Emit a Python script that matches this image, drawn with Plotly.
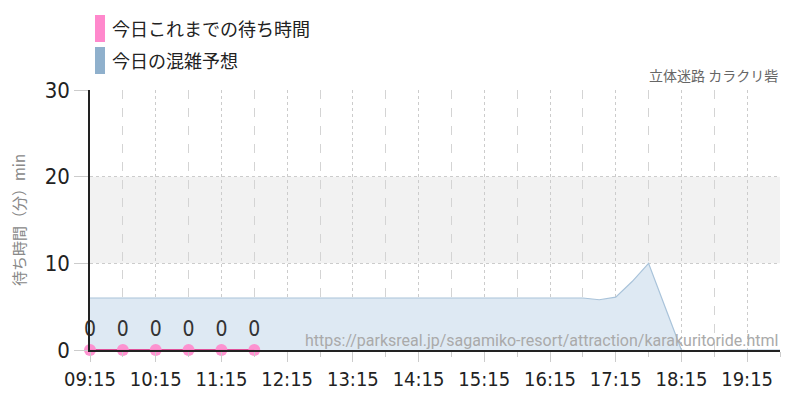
import plotly.graph_objects as go

# ---- data ----
forecast_times = [
    "09:15", "09:30", "09:45", "10:00", "10:15", "10:30", "10:45", "11:00",
    "11:15", "11:30", "11:45", "12:00", "12:15", "12:30", "12:45", "13:00",
    "13:15", "13:30", "13:45", "14:00", "14:15", "14:30", "14:45", "15:00",
    "15:15", "15:30", "15:45", "16:00", "16:15", "16:30", "16:45", "17:00",
    "17:15", "17:30", "17:45", "18:00", "18:15", "18:30", "18:45", "19:00",
    "19:15", "19:30", "19:45",
]
forecast_values = [
    6.0, 6.0, 6.0, 6.0, 6.0, 6.0, 6.0, 6.0,
    6.0, 6.0, 6.0, 6.0, 6.0, 6.0, 6.0, 6.0,
    6.0, 6.0, 6.0, 6.0, 6.0, 6.0, 6.0, 6.0,
    6.0, 6.0, 6.0, 6.0, 6.0, 6.0, 6.0, 5.8,
    6.1, 7.9, 10.0, 5.0, 0.0, -0.3, -0.1, 0.0,
    0.0, 0.0, 0.0,
]
actual_times = ["09:15", "09:45", "10:15", "10:45", "11:15", "11:45"]
actual_values = [0, 0, 0, 0, 0, 0]

series_names = ["今日これまでの待ち時間", "今日の混雑予想"]
series_colors = ["#ff88cc", "#8fb0cc"]
title_text = "立体迷路 カラクリ砦"
y_title = "待ち時間（分）min"
source_url = "https://parksreal.jp/sagamiko-resort/attraction/karakuritoride.html"
y_ticks = [0, 10, 20, 30]

DAY = "2024-01-01 "
fx = [DAY + t for t in forecast_times]
ax = [DAY + t for t in actual_times]

NUM_FONT = "Liberation Sans Narrow, DejaVu Sans Condensed, Roboto, sans-serif"
JP_FONT = "Noto Sans CJK JP, Noto Sans, sans-serif"

# page has an 8px body margin; compensate so the plot lands where the reference has it
OFF = 8
FIG_W, FIG_H = 800 - OFF, 400 - OFF
PL, PT, PW, PH = 90 - OFF, 90 - OFF, 690, 260

fig = go.Figure()

fig.add_trace(go.Scatter(
    x=fx, y=forecast_values, mode="lines", name=series_names[1],
    line=dict(color="#a9c3da", width=1.2),
    fill="tozeroy", fillcolor="rgba(222,233,243,1)",
    hoverinfo="skip", showlegend=False,
))

fig.add_trace(go.Scatter(
    x=ax, y=actual_values, mode="lines+markers+text", name=series_names[0],
    line=dict(color="#e0509a", width=2),
    marker=dict(color="rgba(255,136,204,0.9)", size=12),
    text=[str(v) for v in actual_values], textposition="top center",
    textfont=dict(family=NUM_FONT, size=21, color="#333333"),
    cliponaxis=False, showlegend=False,
))

# gray band 10-20
fig.add_shape(type="rect", xref="paper", yref="y", x0=0, x1=1, y0=10, y1=20,
              fillcolor="#f2f2f2", line=dict(width=0), layer="below")


def px(xw):
    return (xw - OFF - PL) / PW


def py(yw):
    return (PT + PH - (yw - OFF)) / PH


# custom legend
for i, (name, col) in enumerate(zip(series_names, series_colors)):
    top = 15 + 32 * i
    fig.add_shape(type="rect", xref="paper", yref="paper",
                  x0=px(95), x1=px(105), y0=py(top + 27), y1=py(top),
                  fillcolor=col, line=dict(width=0))
    fig.add_annotation(xref="paper", yref="paper",
                       x=px(110), y=py(top + 13), text=name, showarrow=False,
                       xanchor="left", yanchor="middle",
                       font=dict(family=JP_FONT, size=18, color="#222222"))

fig.add_annotation(xref="paper", yref="paper", x=1, y=py(75),
                   text=title_text, showarrow=False, xanchor="right", yanchor="middle",
                   font=dict(family=JP_FONT, size=14, color="#666666"))

fig.add_annotation(xref="paper", yref="paper", x=1, y=py(340),
                   text=source_url, showarrow=False, xanchor="right", yanchor="middle",
                   font=dict(family="Roboto, Open Sans, sans-serif", size=16, color="#aaaaaa"))

fig.update_layout(
    width=FIG_W, height=FIG_H,
    margin=dict(l=PL, r=FIG_W - PL - PW, t=PT, b=FIG_H - PT - PH),
    paper_bgcolor="white", plot_bgcolor="white",
    showlegend=False,
    xaxis=dict(
        type="date", automargin=False,
        range=[DAY + "09:15", DAY + "19:45"],
        tick0=DAY + "09:15", dtick=3600000, tickformat="%H:%M",
        showgrid=True, gridcolor="#cccccc", griddash="dot", gridwidth=1,
        ticks="outside", ticklen=10, tickcolor="#cccccc",
        tickfont=dict(family=NUM_FONT, size=20, color="#222222"),
        showline=True, linecolor="#222222", linewidth=1.5,
        minor=dict(dtick=1800000, tick0=DAY + "09:15", showgrid=True,
                   gridcolor="#d4d4d4", griddash="dash", ticks="outside",
                   ticklen=5, tickcolor="#cccccc"),
        zeroline=False, fixedrange=True,
    ),
    yaxis=dict(
        range=[0, 30], tickvals=y_ticks, automargin=False,
        showgrid=True, gridcolor="#cccccc", griddash="dot", gridwidth=1,
        ticks="outside", ticklen=14, tickcolor="#cccccc",
        tickfont=dict(family=NUM_FONT, size=22, color="#222222"),
        showline=True, linecolor="#222222", linewidth=1.5,
        zeroline=False,
        title=dict(text=y_title, font=dict(family=JP_FONT, size=15, color="#888888"),
                   standoff=16),
    ),
)

fig.write_html("out.html")
